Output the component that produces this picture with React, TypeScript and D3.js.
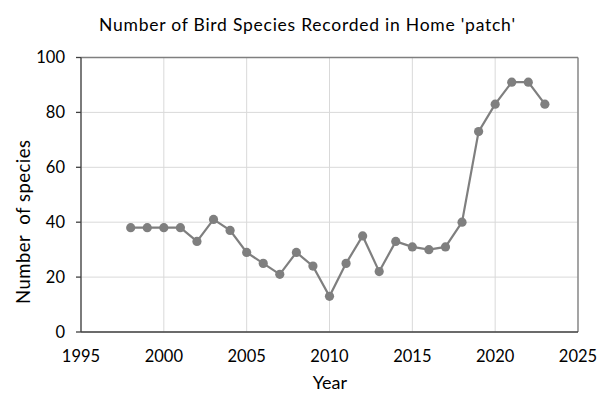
import React from "react";
import * as d3 from "d3";

const years = [1998, 1999, 2000, 2001, 2002, 2003, 2004, 2005, 2006, 2007, 2008, 2009, 2010, 2011, 2012, 2013, 2014, 2015, 2016, 2017, 2018, 2019, 2020, 2021, 2022, 2023];
const species = [38, 38, 38, 38, 33, 41, 37, 29, 25, 21, 29, 24, 13, 25, 35, 22, 33, 31, 30, 31, 40, 73, 83, 91, 91, 83];
const xTicks = [1995, 2000, 2005, 2010, 2015, 2020, 2025];
const yTicks = [0, 20, 40, 60, 80, 100];
const title = "Number of Bird Species Recorded in Home 'patch'";
const xTitle = "Year";
const yTitle = "Number  of species";

const W = 614, H = 406;
const L = 81, R = 578, T = 57.5, B = 332;
const FONT = "Lato, 'Open Sans', sans-serif";

export default function App() {
  const x = d3.scaleLinear().domain([1995, 2025]).range([L, R]);
  const y = d3.scaleLinear().domain([0, 100]).range([B, T]);
  const pts = years.map((yr, i) => [x(yr), y(species[i])] as [number, number]);
  const line = d3.line()(pts) || "";
  return (
    <svg width={W} height={H} style={{ position: "absolute", left: 0, top: 0, background: "#fff" }} fontFamily={FONT}>
      <rect x={0} y={0} width={W} height={H} fill="#fff" />
      <text x={307} y={31} textAnchor="middle" fontSize={17.5} fill="#000" textLength={416} lengthAdjust="spacing" style={{ whiteSpace: "pre" }}>{title}</text>
      {xTicks.map((t) => (
        <line key={"gx" + t} x1={x(t)} x2={x(t)} y1={T} y2={B} stroke="#d9d9d9" strokeWidth={1} />
      ))}
      {yTicks.map((t) => (
        <line key={"gy" + t} x1={L} x2={R} y1={y(t)} y2={y(t)} stroke="#d9d9d9" strokeWidth={1} />
      ))}
      <line x1={L} x2={R} y1={T} y2={T} stroke="#7f7f7f" strokeWidth={1.3} />
      <line x1={R} x2={R} y1={T} y2={B} stroke="#7f7f7f" strokeWidth={1.3} />
      <line x1={L} x2={R} y1={B} y2={B} stroke="#404040" strokeWidth={1.3} />
      <line x1={L} x2={L} y1={T} y2={B} stroke="#404040" strokeWidth={1.3} />
      {yTicks.map((t) => (
        <g key={"ty" + t}>
          <line x1={L - 5} x2={L} y1={y(t)} y2={y(t)} stroke="#404040" strokeWidth={1.3} />
          <text x={65} y={y(t) + 5.5} textAnchor="end" fontSize={16.5} fill="#000">{t}</text>
        </g>
      ))}
      {xTicks.map((t) => (
        <text key={"tx" + t} x={x(t)} y={362} textAnchor="middle" fontSize={16.5} fill="#000">{t}</text>
      ))}
      <text x={330} y={389} textAnchor="middle" fontSize={18} fill="#000">{xTitle}</text>
      <text transform={`translate(30,222) rotate(-90)`} textAnchor="middle" fontSize={18.5} fill="#000" textLength={164} lengthAdjust="spacing" style={{ whiteSpace: "pre" }}>{yTitle}</text>
      <path d={line} fill="none" stroke="#7f7f7f" strokeWidth={2.2} />
      {pts.map((p, i) => (
        <circle key={i} cx={p[0]} cy={p[1]} r={4.6} fill="#7f7f7f" />
      ))}
    </svg>
  );
}
